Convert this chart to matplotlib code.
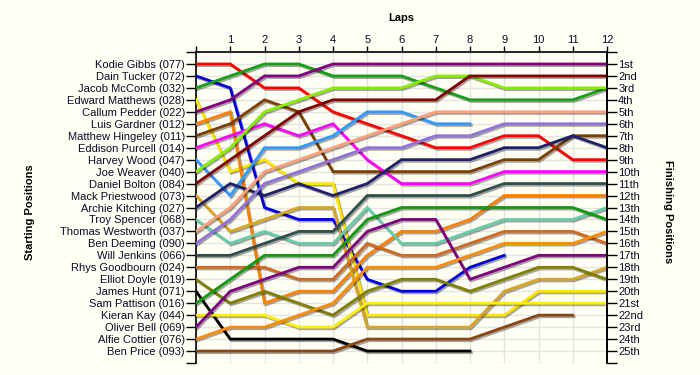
import matplotlib
matplotlib.use('Agg')
import matplotlib.pyplot as plt
import matplotlib.patheffects as pe

plt.rcParams['font.family'] = ['Liberation Sans', 'DejaVu Sans']

# Starting grid labels (position 1..25)
start_labels = [
    "Kodie Gibbs (077)", "Dain Tucker (072)", "Jacob McComb (032)",
    "Edward Matthews (028)", "Callum Pedder (022)", "Luis Gardner (012)",
    "Matthew Hingeley (011)", "Eddison Purcell (014)", "Harvey Wood (047)",
    "Joe Weaver (040)", "Daniel Bolton (084)", "Mack Priestwood (073)",
    "Archie Kitching (027)", "Troy Spencer (068)", "Thomas Westworth (037)",
    "Ben Deeming (090)", "Will Jenkins (066)", "Rhys Goodbourn (024)",
    "Elliot Doyle (019)", "James Hunt (071)", "Sam Pattison (016)",
    "Kieran Kay (044)", "Oliver Bell (069)", "Alfie Cottier (076)",
    "Ben Price (093)",
]
finish_labels = ["1st", "2nd", "3rd"] + [f"{i}th" for i in range(4, 21)] + \
    ["21st", "22nd", "23rd", "24th", "25th"]
lap_labels = list(range(1, 13))

# Position per lap (index 0 = start) for each car, in starting order
pos_gibbs     = [1, 1, 3, 3, 5, 6, 7, 8, 8, 7, 7, 9, 9]
pos_tucker    = [2, 3, 13, 14, 14, 19, 20, 20, 18, 17]
pos_mccomb    = [3, 2, 1, 1, 2, 2, 2, 3, 4, 4, 4, 4, 3]
pos_matthews  = [4, 10, 9, 11, 11, 22, 22, 22, 22, 22, 20, 20, 20]
pos_pedder    = [5, 4, 2, 2, 1, 1, 1, 1, 1, 1, 1, 1, 1]
pos_gardner   = [6, 5, 21, 20, 20, 17, 15, 15, 14, 12, 12, 12, 12]
pos_hingeley  = [7, 6, 4, 5, 10, 10, 10, 10, 10, 9, 9, 7, 7]
pos_purcell   = [8, 7, 6, 7, 6, 9, 11, 11, 11, 10, 10, 10, 10]
pos_wood      = [9, 12, 8, 8, 7, 5, 5, 6, 6]
pos_weaver    = [10, 8, 5, 4, 3, 3, 3, 2, 2, 3, 3, 3, 3]
pos_bolton    = [11, 9, 7, 5, 4, 4, 4, 4, 2, 2, 2, 2, 2]
pos_priestwood = [12, 15, 14, 13, 13, 23, 23, 23, 23, 20, 19, 19, 18]
pos_kitching  = [13, 11, 12, 11, 12, 11, 9, 9, 9, 8, 8, 7, 8]
pos_spencer   = [14, 16, 15, 16, 16, 13, 16, 16, 15, 14, 14, 14, 13]
pos_westworth = [15, 13, 10, 9, 8, 7, 6, 5, 5, 5, 5, 5, 5]
pos_deeming   = [16, 14, 11, 10, 9, 8, 8, 7, 7, 6, 6, 6, 6]
pos_jenkins   = [17, 17, 16, 15, 15, 12, 12, 12, 12, 11, 11, 11, 11]
pos_goodbourn = [18, 18, 18, 19, 19, 16, 17, 17, 16, 15, 15, 15, 16]
pos_doyle     = [19, 21, 20, 21, 22, 20, 19, 19, 20, 19, 18, 18, 19]
pos_hunt      = [20, 24, 24, 24, 24, 25, 25, 25, 25]
pos_pattison  = [21, 19, 17, 17, 17, 14, 13, 13, 13, 13, 13, 13, 14]
pos_kay       = [22, 22, 22, 23, 23, 21, 21, 21, 21, 21, 21, 21, 21]
pos_bell      = [23, 20, 19, 18, 18, 15, 14, 14, 19, 18, 17, 17, 17]
pos_cottier   = [24, 23, 23, 22, 21, 18, 18, 18, 17, 16, 16, 16, 15]
pos_price     = [25, 25, 25, 25, 25, 24, 24, 24, 24, 23, 22, 22]

series = [pos_gibbs, pos_tucker, pos_mccomb, pos_matthews, pos_pedder,
          pos_gardner, pos_hingeley, pos_purcell, pos_wood, pos_weaver,
          pos_bolton, pos_priestwood, pos_kitching, pos_spencer,
          pos_westworth, pos_deeming, pos_jenkins, pos_goodbourn, pos_doyle,
          pos_hunt, pos_pattison, pos_kay, pos_bell, pos_cottier, pos_price]

colors = ['#FF0000', '#0000DD', '#16A016', '#FFE600', '#800080',
          '#FF8000', '#7B3F00', '#FF00FF', '#3399FF', '#88EE00',
          '#800000', '#DAA520', '#1F1F6A', '#66CDAA',
          '#FFA07A', '#9370DB', '#2F4F4F', '#D2691E', '#808000',
          '#000000', '#109A10', '#FFF000', '#800080', '#FF8C00', '#8B4513']

bg = '#FFFFF4'
fig = plt.figure(figsize=(7, 3.75), dpi=100, facecolor=bg)
ax = fig.add_axes([196/700, 1-363/375, (607-196)/700, (363-52)/375])
ax.set_facecolor(bg)

for s, c in zip(series, colors):
    ax.plot(range(len(s)), s, color=c, lw=2.0, solid_joinstyle='miter',
            path_effects=[pe.SimpleLineShadow(offset=(1.0, -1.2), shadow_color='black', alpha=0.35),
                          pe.Normal()], zorder=3)

ax.set_xlim(0, 12)
ax.set_ylim(26, 0)

# grid
ax.set_xticks(range(0, 13))
ax.set_yticks(range(0, 27))
ax.grid(True, color='#E4E4E4', lw=1.0, zorder=0)
ax.set_axisbelow(True)

ax.xaxis.tick_top()
ax.set_xticklabels([''] + [str(l) for l in lap_labels])
ax.set_yticklabels([''] + start_labels + [''])

tc = '#0A0A2A'
ax.tick_params(axis='x', which='both', direction='out', length=4, width=1,
               labelsize=8, colors='black', labelcolor=tc, pad=1)
ax.tick_params(axis='y', which='both', direction='out', length=7, width=1,
               labelsize=8, colors='black', labelcolor=tc, pad=1)

for sp in ['left', 'right', 'top']:
    ax.spines[sp].set_color('black')
    ax.spines[sp].set_linewidth(1.2)
ax.spines['bottom'].set_visible(False)

ax2 = ax.twinx()
ax2.set_ylim(26, 0)
ax2.set_yticks(range(0, 27))
ax2.set_yticklabels([''] + finish_labels + [''])
ax2.tick_params(axis='y', direction='out', length=7, width=1, labelsize=8,
                colors='black', labelcolor=tc, pad=1)
for sp in ['left', 'top', 'bottom']:
    ax2.spines[sp].set_visible(False)
ax2.spines['right'].set_linewidth(1.2)

fig.text(401/700, 1-18/375, 'Laps', ha='center', va='center',
         fontsize=8, fontweight='bold', color='black')
fig.text(30/700, 1-212/375, 'Starting Positions', ha='center', va='center',
         rotation=90, fontsize=8, fontweight='bold', color='black')
fig.text(668/700, 1-212/375, 'Finishing Positions', ha='center', va='center',
         rotation=-90, fontsize=8, fontweight='bold', color='black')

fig.savefig('out.png', dpi=100, facecolor=bg)
